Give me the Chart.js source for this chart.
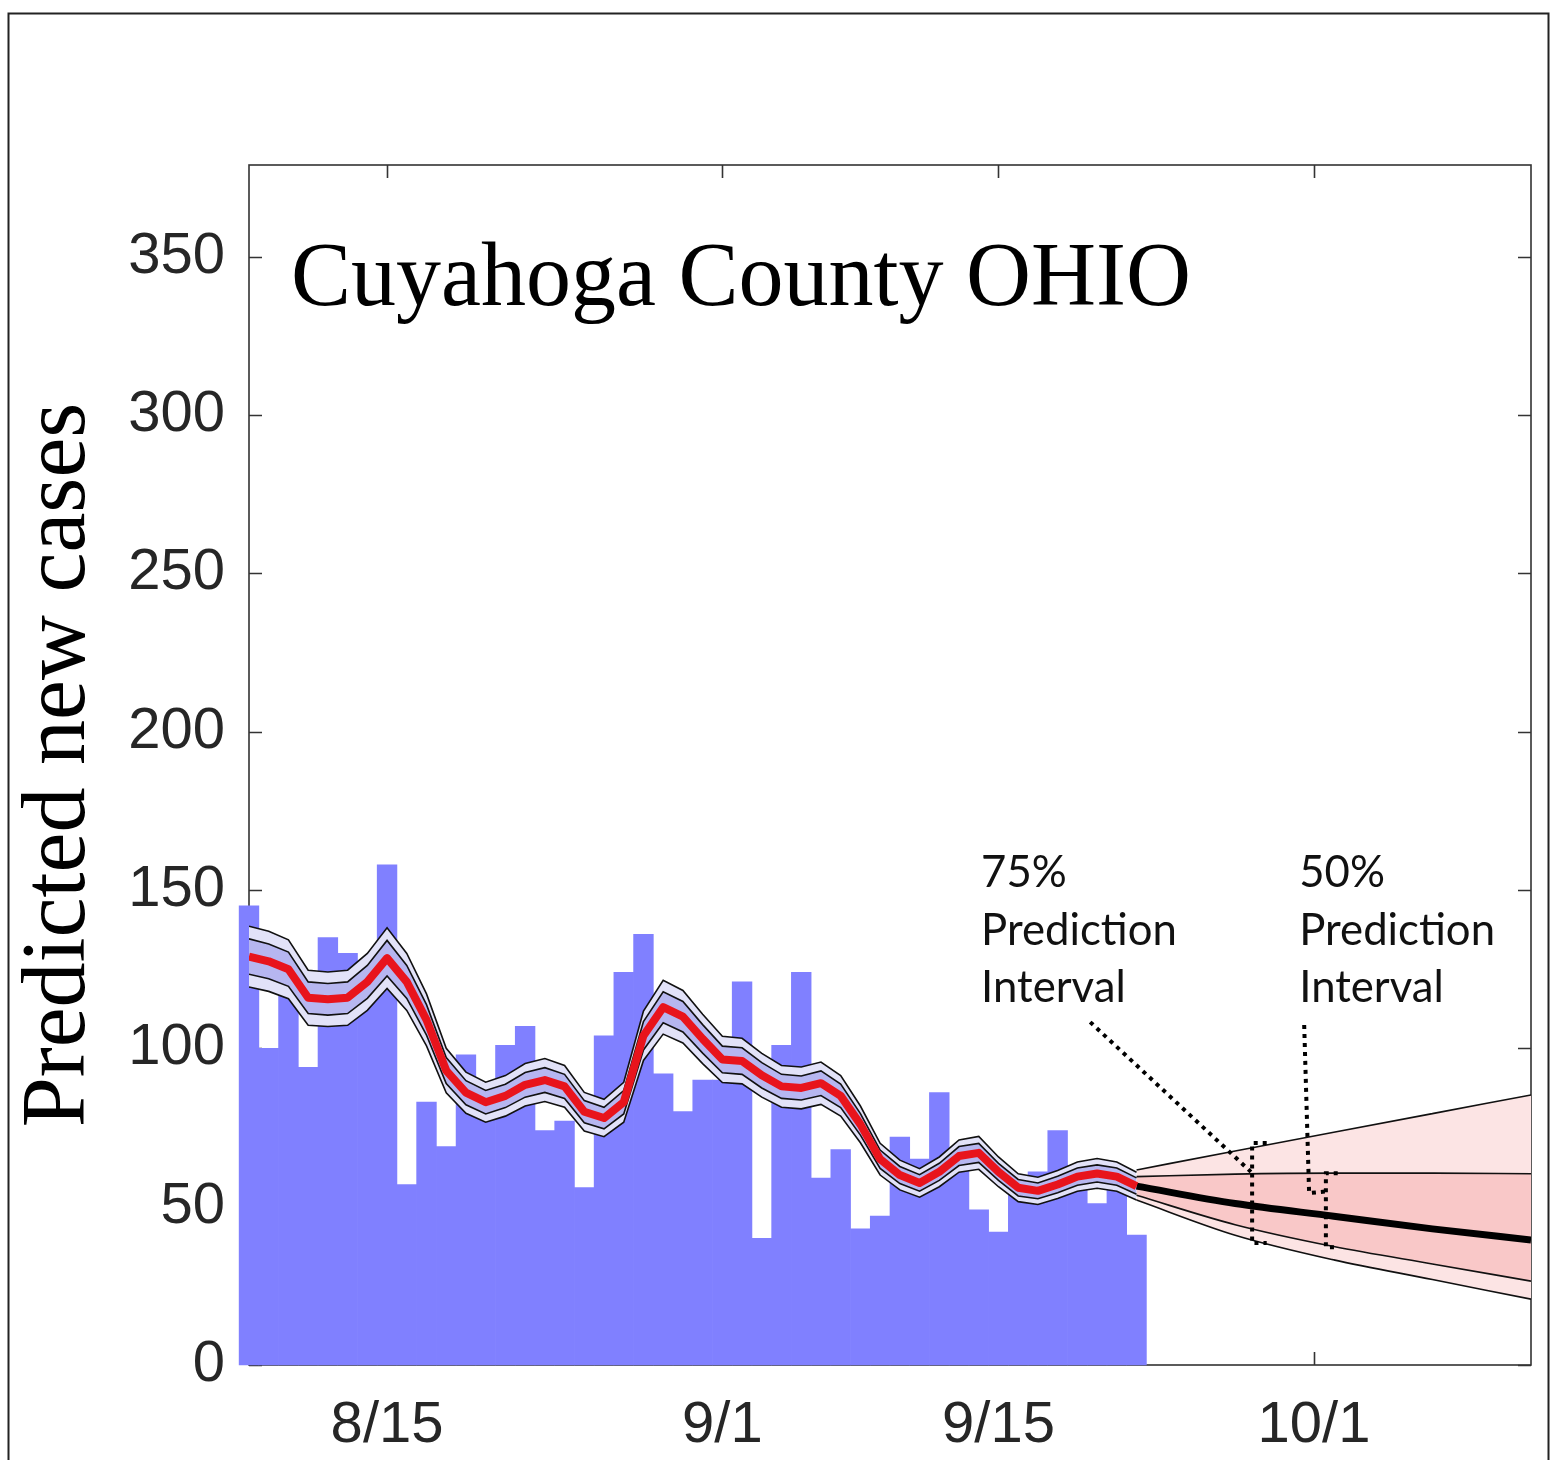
<!DOCTYPE html>
<html>
<head>
<meta charset="utf-8">
<title>Cuyahoga County OHIO</title>
<script src="https://cdn.jsdelivr.net/npm/chart.js@4.4.1/dist/chart.umd.min.js"></script>
<style>
  body { margin: 0; background: #fff; }
  #wrap { width: 1554px; height: 1460px; }
</style>
</head>
<body>
<div id="wrap"><canvas id="casesChart" width="1554" height="1460"></canvas></div>
<script>
// reported days (one bar per day)
const caseDates = ['8/8','8/9','8/10','8/11','8/12','8/13','8/14','8/15','8/16','8/17','8/18','8/19',
  '8/20','8/21','8/22','8/23','8/24','8/25','8/26','8/27','8/28','8/29','8/30','8/31',
  '9/1','9/2','9/3','9/4','9/5','9/6','9/7','9/8','9/9','9/10','9/11','9/12',
  '9/13','9/14','9/15','9/16','9/17','9/18','9/19','9/20','9/21','9/22'];

const newCases = [145, 100, 120, 94, 135, 130, 125, 158, 57, 83, 69, 98,
  86, 101, 107, 74, 77, 56, 104, 124, 136, 92, 80, 90,
  90, 121, 40, 101, 124, 59, 68, 43, 47, 72, 65, 86,
  64, 49, 42, 58, 61, 74, 60, 51, 58, 41];

// fitted curve (red) and the spread of its two bands
const fitLine = [129, 127.5, 125, 116, 115.5, 116, 121, 128.5, 121, 109, 93, 86,
  83, 85, 88.5, 90, 88, 80, 78, 83, 104, 113, 110, 103,
  96.5, 96, 91.5, 88, 87.5, 89, 85, 76, 65, 60, 57.5, 61,
  66, 67, 61, 56, 55, 57, 59.5, 60.5, 59.5, 56.5];

const fitOuterHalf = [9.6, 9.5, 9.3, 8.7, 8.6, 8.7, 9.0, 9.6, 9.0, 8.2, 7.0, 6.5,
  6.3, 6.4, 6.7, 6.8, 6.6, 6.1, 5.9, 6.3, 7.8, 8.5, 8.3, 7.8,
  7.3, 7.2, 6.9, 6.6, 6.6, 6.7, 6.4, 5.8, 5.0, 4.7, 4.5, 4.7,
  5.1, 5.2, 4.7, 4.4, 4.3, 4.4, 4.6, 4.7, 4.6, 4.4];

const fitInnerHalf = [5.6, 5.5, 5.4, 5.0, 5.0, 5.0, 5.2, 5.6, 5.2, 4.8, 4.1, 3.8,
  3.7, 3.7, 3.9, 3.9, 3.8, 3.5, 3.4, 3.7, 4.5, 4.9, 4.8, 4.5,
  4.2, 4.2, 4.0, 3.8, 3.8, 3.9, 3.7, 3.4, 2.9, 2.7, 2.6, 2.7,
  3.0, 3.0, 2.7, 2.6, 2.5, 2.6, 2.7, 2.7, 2.7, 2.6];

// forecast
const forecastDates = ['9/22', '9/27', '10/2', '10/7', '10/12'];
const forecastMedian = [56.5, 51, 47, 43, 39.5];
const forecast50Hi = [59.5, 60.3, 60.6, 60.6, 60.4];
const forecast50Lo = [53.6, 44.3, 37.4, 31.9, 26.5];
const forecast75Hi = [61.6, 67.6, 73.5, 79.4, 85.3];
const forecast75Lo = [52.1, 41, 33.2, 27, 20.8];

// axes
const xTickLabels = ['8/15', '9/1', '9/15', '10/1'];
const xRange = ['8/8', '10/12'];
const yTickValues = [0, 50, 100, 150, 200, 250, 300, 350];
const yMax = 379;

// day number counted from 8/8
function dayNumber(md) {
  const [m, d] = md.split('/').map(Number);
  if (m === 8) return d - 8;
  if (m === 9) return d + 23;
  return d + 53;
}

function points(dates, values) {
  return dates.map((d, i) => ({ x: dayNumber(d), y: values[i] }));
}

const fitOuterHi = points(caseDates, fitLine.map((v, i) => v + fitOuterHalf[i]));
const fitOuterLo = points(caseDates, fitLine.map((v, i) => v - fitOuterHalf[i]));
const fitInnerHi = points(caseDates, fitLine.map((v, i) => v + fitInnerHalf[i]));
const fitInnerLo = points(caseDates, fitLine.map((v, i) => v - fitInnerHalf[i]));

function edge(data, extra) {
  return Object.assign({
    type: 'line',
    data: data,
    borderColor: '#111',
    borderWidth: 1.6,
    pointRadius: 0,
    tension: 0,
    fill: false
  }, extra);
}

const boxPlugin = {
  id: 'box',
  beforeDatasetsDraw(chart) {
    const { ctx, chartArea: a, scales: { x, y } } = chart;
    ctx.save();
    ctx.strokeStyle = '#333';
    ctx.lineWidth = 1.6;
    ctx.strokeRect(a.left, a.top, a.right - a.left, a.bottom - a.top);
    ctx.beginPath();
    x.ticks.forEach(t => {
      const px = Math.round(x.getPixelForValue(t.value)) + 0.5;
      ctx.moveTo(px, a.bottom); ctx.lineTo(px, a.bottom - 13);
      ctx.moveTo(px, a.top); ctx.lineTo(px, a.top + 13);
    });
    y.ticks.forEach(t => {
      const py = Math.round(y.getPixelForValue(t.value)) + 0.5;
      ctx.moveTo(a.left, py); ctx.lineTo(a.left + 13, py);
      ctx.moveTo(a.right, py); ctx.lineTo(a.right - 13, py);
    });
    ctx.stroke();
    ctx.restore();
  }
};

const notesPlugin = {
  id: 'notes',
  afterDraw(chart) {
    const { ctx, chartArea: a, scales: { x, y } } = chart;
    const px = (d, v) => [x.getPixelForValue(d), y.getPixelForValue(v)];
    ctx.save();

    // title inside the plot
    ctx.fillStyle = '#000';
    ctx.font = '90px "Liberation Serif"';
    ctx.textBaseline = 'alphabetic';
    ctx.textAlign = 'left';
    ctx.fillText('Cuyahoga County OHIO', a.left + 42, a.top + 140);

    // prediction interval labels
    ctx.fillStyle = '#111';
    ctx.font = '100px Lato';
    const size = 100 * 196 / ctx.measureText('Prediction').width;
    ctx.font = size.toFixed(1) + 'px Lato';
    [['75%', 37.12], ['50%', 53.25]].forEach(([pct, d]) => {
      const [tx, ty] = px(d, 150.9);
      ctx.fillText(pct, tx, ty);
      ctx.fillText('Prediction', tx, ty + 57.5);
      ctx.fillText('Interval', tx, ty + 115);
    });

    // dotted leaders and brackets
    ctx.strokeStyle = '#000';
    ctx.lineWidth = 4;
    ctx.setLineDash([4, 5]);
    const paths = [
      [[42.65, 108.3], [50.8, 61]],
      [[51.6, 70.1], [50.86, 70.1], [50.86, 38.5], [51.6, 38.5]],
      [[53.5, 107.4], [53.75, 54.3], [54.6, 54.8]],
      [[55.2, 60.6], [54.6, 60.6], [54.6, 37.2], [55.2, 37.2]]
    ];
    paths.forEach(p => {
      ctx.beginPath();
      p.forEach(([d, v], i) => {
        const [qx, qy] = px(d, v);
        if (i === 0) ctx.moveTo(qx, qy); else ctx.lineTo(qx, qy);
      });
      ctx.stroke();
    });
    ctx.setLineDash([]);

    // outer figure frame
    ctx.strokeStyle = '#222';
    ctx.lineWidth = 2;
    ctx.strokeRect(8.5, 13.5, 1540, 1500);
    ctx.restore();
  }
};

new Chart(document.getElementById('casesChart'), {
  type: 'bar',
  data: {
    datasets: [
      edge(points(caseDates, fitLine), { borderColor: '#E8141C', borderWidth: 8, borderJoinStyle: 'round', order: 1 }),
      edge(points(forecastDates, forecastMedian), { borderColor: '#000', borderWidth: 7, cubicInterpolationMode: 'monotone', order: 1 }),
      edge(fitOuterHi, { fill: '+1', backgroundColor: '#E2E2F8', order: 9 }),
      edge(fitOuterLo, { order: 8 }),
      edge(fitInnerHi, { fill: '+1', backgroundColor: '#B6B6F0', order: 7 }),
      edge(fitInnerLo, { order: 6 }),
      edge(points(forecastDates, forecast75Hi), { fill: '+1', backgroundColor: '#FCE4E4', cubicInterpolationMode: 'monotone', order: 9 }),
      edge(points(forecastDates, forecast75Lo), { cubicInterpolationMode: 'monotone', order: 8 }),
      edge(points(forecastDates, forecast50Hi), { fill: '+1', backgroundColor: '#F9C8C8', cubicInterpolationMode: 'monotone', order: 7 }),
      edge(points(forecastDates, forecast50Lo), { cubicInterpolationMode: 'monotone', order: 6 }),
      {
        type: 'bar',
        data: points(caseDates, newCases),
        backgroundColor: '#8080FF',
        borderWidth: 0,
        barPercentage: 1,
        categoryPercentage: 1,
        clip: false,
        order: 10
      }
    ]
  },
  options: {
    responsive: false,
    animation: false,
    devicePixelRatio: 1,
    layout: { padding: { top: 165, right: 23, bottom: 0, left: 0 } },
    plugins: { legend: { display: false }, tooltip: { enabled: false } },
    scales: {
      x: {
        type: 'linear',
        offset: false,
        min: dayNumber(xRange[0]),
        max: dayNumber(xRange[1]),
        grid: { display: false, drawTicks: false },
        border: { display: false },
        afterBuildTicks: axis => { axis.ticks = xTickLabels.map(l => ({ value: dayNumber(l) })); },
        afterFit: axis => { axis.height = 95; },
        ticks: {
          autoSkip: false,
          maxRotation: 0,
          padding: 26,
          color: '#262626',
          font: { family: '"Liberation Sans"', size: 58 },
          callback: (v, i) => xTickLabels[i]
        }
      },
      y: {
        min: 0,
        max: yMax,
        grid: { display: false, drawTicks: false },
        border: { display: false },
        afterBuildTicks: axis => { axis.ticks = yTickValues.map(v => ({ value: v })); },
        afterFit: axis => { axis.width = 249; },
        ticks: {
          padding: 24,
          color: '#262626',
          font: { family: '"Liberation Sans"', size: 58 },
          callback: v => String(v)
        },
        title: {
          display: true,
          text: 'Predicted new cases',
          color: '#000',
          padding: { top: 6, bottom: 0 },
          font: { family: '"Liberation Serif"', size: 90 }
        }
      }
    }
  },
  plugins: [boxPlugin, notesPlugin]
});
</script>
</body>
</html>
